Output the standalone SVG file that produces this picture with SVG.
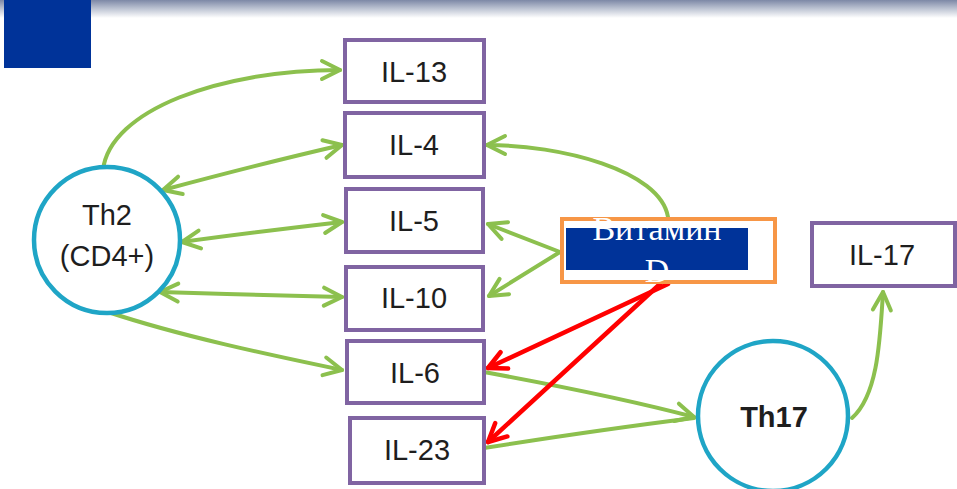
<svg xmlns="http://www.w3.org/2000/svg" width="957" height="489" viewBox="0 0 957 489">
  <defs>
    <linearGradient id="bannerFade" x1="0" y1="0" x2="0" y2="1">
      <stop offset="0" stop-color="#7d88a6"/>
      <stop offset="0.45" stop-color="#b9c0d0"/>
      <stop offset="1" stop-color="#ffffff"/>
    </linearGradient>
    <marker id="headGreen" viewBox="0 0 24 24" markerWidth="24" markerHeight="24" refX="21" refY="12" orient="auto-start-reverse" markerUnits="userSpaceOnUse">
      <path d="M3,3 L21,12 L3,21" fill="none" stroke="#8cc04e" stroke-width="4" stroke-linecap="round" stroke-linejoin="round"/>
    </marker>
    <marker id="headRed" viewBox="0 0 24 24" markerWidth="24" markerHeight="24" refX="21" refY="12" orient="auto" markerUnits="userSpaceOnUse">
      <path d="M3,3 L21,12 L3,21" fill="none" stroke="#ff0000" stroke-width="4.5" stroke-linecap="round" stroke-linejoin="round"/>
    </marker>
  </defs>
  <style>
    .box { fill: #ffffff; stroke: #8064a2; stroke-width: 4; }
    .cell { fill: #ffffff; stroke: #1fa5c6; stroke-width: 4.5; }
    .lbl { font-family: "Liberation Sans", Arial, sans-serif; font-size: 29px; fill: #1e1e1e; text-anchor: middle; }
    .bold { font-weight: bold; }
    .green { fill: none; stroke: #8cc04e; stroke-width: 4; stroke-linecap: round; }
    .red { fill: none; stroke: #ff0000; stroke-width: 4.5; stroke-linecap: round; }
    .vit { font-family: "Liberation Serif", "Times New Roman", serif; font-size: 34px; fill: #ffffff; text-anchor: middle; }
  </style>

  <rect width="957" height="489" fill="#ffffff"/>
  <!-- header strip -->
  <rect x="0" y="0" width="957" height="18" fill="url(#bannerFade)"/>
  <rect x="4" y="0" width="87" height="68" fill="#003399"/>

  <!-- connectors -->
  <g id="connectors">
    <path class="green" d="M103,170 C110,110 220,70 340,70" marker-end="url(#headGreen)"/>
    <path class="green" d="M163,190 C230,172 290,157 342,145" marker-start="url(#headGreen)" marker-end="url(#headGreen)"/>
    <path class="green" d="M182,242 C240,234 290,228 342,222" marker-start="url(#headGreen)" marker-end="url(#headGreen)"/>
    <path class="green" d="M160,292 C220,294 290,296 342,297" marker-start="url(#headGreen)" marker-end="url(#headGreen)"/>
    <path class="green" d="M108,312 C180,336 270,355 342,370" marker-end="url(#headGreen)"/>
    <path class="green" d="M668,217 C660,170 560,145 487,145" marker-end="url(#headGreen)"/>
    <path class="green" d="M560,252 L488,224" marker-end="url(#headGreen)"/>
    <path class="green" d="M560,252 L489,296" marker-end="url(#headGreen)"/>
    <path class="green" d="M484,372 C560,386 630,400 694,417" marker-end="url(#headGreen)"/>
    <path class="green" d="M484,448 C560,436 630,426 694,418"/>
    <path class="green" d="M852,418 C878,395 880,340 883,292" marker-end="url(#headGreen)"/>
    <path class="red" d="M668,284 L488,368" marker-end="url(#headRed)"/>
    <path class="red" d="M660,284 L488,442" marker-end="url(#headRed)"/>
  </g>

  <g id="th2">
    <circle class="cell" cx="107" cy="240" r="73"/>
    <text class="lbl" x="107" y="225" font-size="30">Th2</text>
    <text class="lbl" x="107" y="266" font-size="30">(CD4+)</text>
  </g>

  <g id="il13">
    <rect class="box" x="345" y="40" width="139" height="62"/>
    <text class="lbl" x="414" y="82">IL-13</text>
  </g>
  <g id="il4">
    <rect class="box" x="345" y="113" width="139" height="64"/>
    <text class="lbl" x="414" y="155">IL-4</text>
  </g>
  <g id="il5">
    <rect class="box" x="346" y="189" width="137" height="63"/>
    <text class="lbl" x="414" y="231">IL-5</text>
  </g>
  <g id="il10">
    <rect class="box" x="346" y="267" width="137" height="63"/>
    <text class="lbl" x="414" y="308">IL-10</text>
  </g>
  <g id="il6">
    <rect class="box" x="347" y="341" width="137" height="62"/>
    <text class="lbl" x="415" y="383">IL-6</text>
  </g>
  <g id="il23">
    <rect class="box" x="350" y="418" width="134" height="65"/>
    <text class="lbl" x="417" y="460">IL-23</text>
  </g>
  <g id="il17">
    <rect class="box" x="812" y="223" width="143" height="63"/>
    <text class="lbl" x="882" y="265">IL-17</text>
  </g>

  <g id="vitamin-d">
    <rect x="562" y="219" width="213" height="63" fill="#ffffff" stroke="#f79646" stroke-width="4"/>
    <rect x="566" y="228" width="182" height="42" fill="#003399"/>
    <text class="vit" x="657" y="240">Витамин</text>
    <text class="vit" x="657" y="282">D</text>
  </g>

  <g id="th17">
    <circle class="cell" cx="773" cy="416" r="75"/>
    <text class="lbl bold" x="774" y="427">Th17</text>
  </g>
</svg>
